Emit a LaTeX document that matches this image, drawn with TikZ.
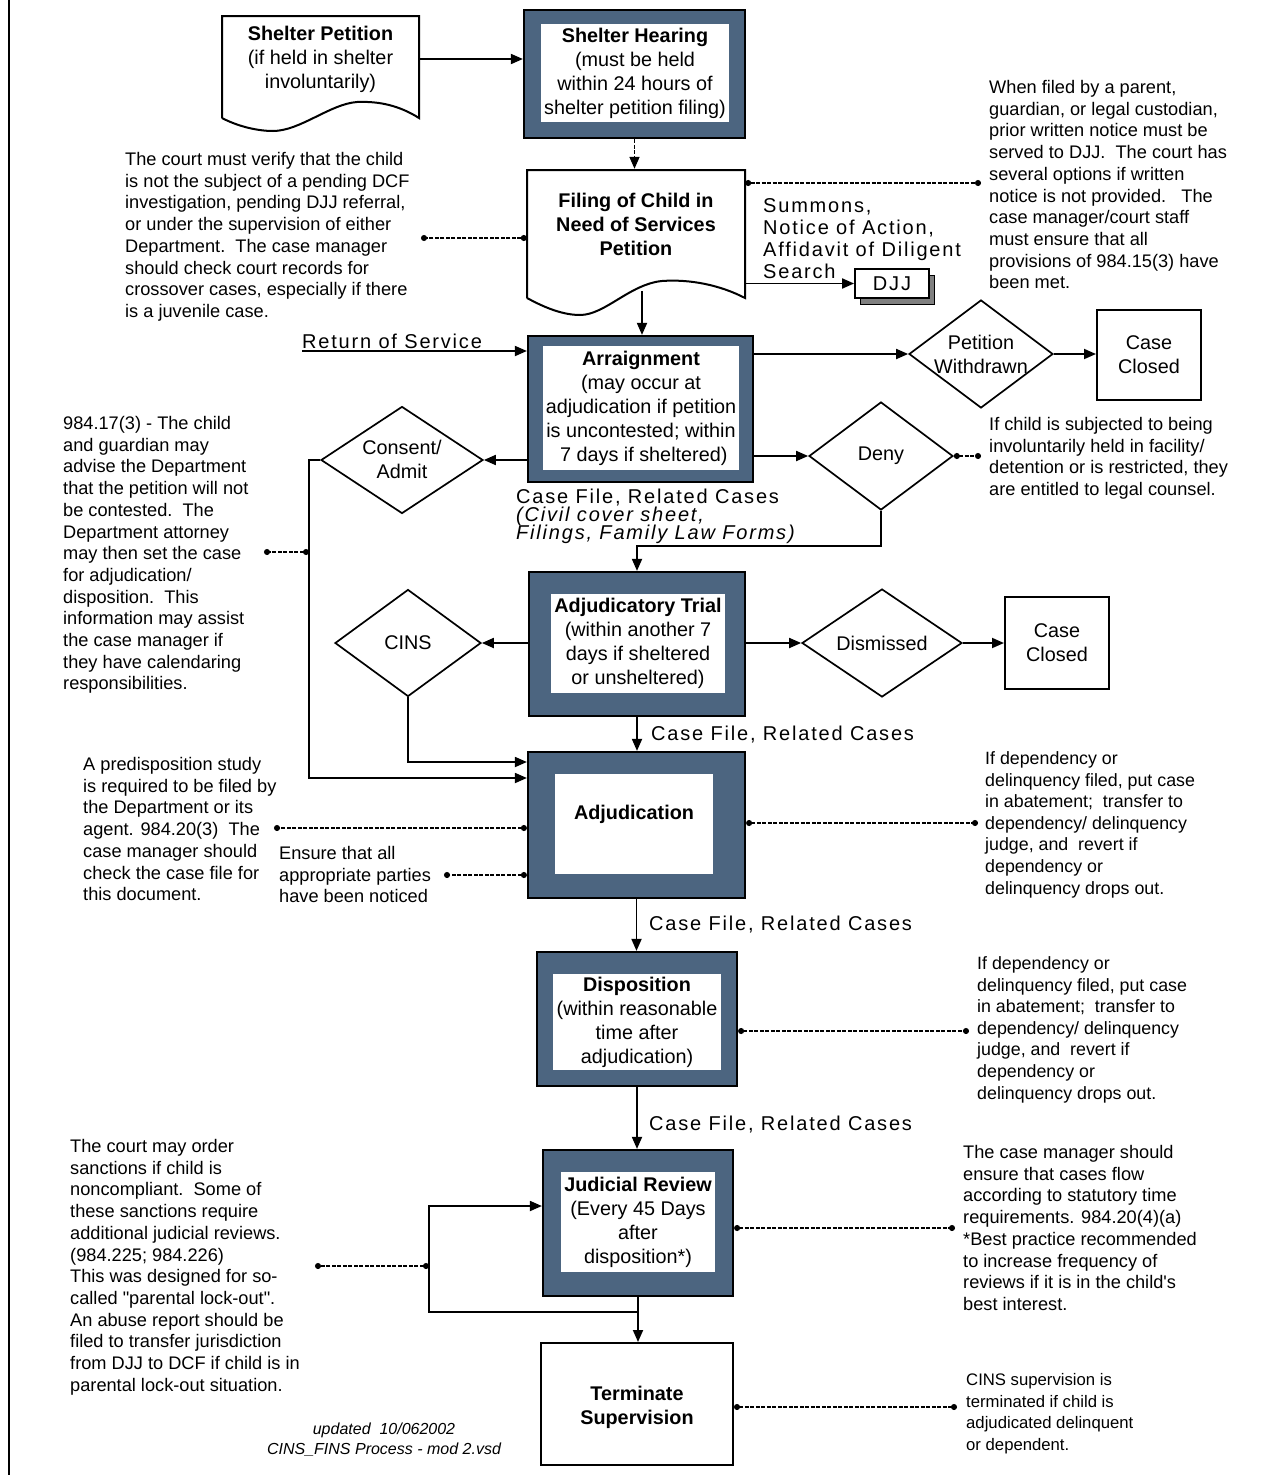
\documentclass[tikz,border=0pt]{standalone}
\usepackage{fontspec}
\setmainfont{Liberation Sans}
\newfontfamily\spacedfont[LetterSpace=9]{Liberation Sans}
\newfontfamily\plainq{Liberation Sans}
\usetikzlibrary{arrows.meta,shapes.geometric}
\definecolor{boxblue}{RGB}{76,101,128}
\newcommand\boxfnt{\fontsize{19.8}{24}\selectfont}
\newcommand\notefnt{\fontsize{18.2}{21.7}\selectfont}
\newcommand\ltab[1]{\begin{tabular}[t]{@{}l@{}}#1\end{tabular}}
\newcommand\ctab[1]{\begin{tabular}[t]{@{}c@{}}#1\end{tabular}}
\newcommand\tlines[1]{\parbox[t]{400pt}{\lineskiplimit=-30pt\relax #1}}
\tikzset{
  outerbox/.style={draw, line width=2.2pt, fill=boxblue, inner sep=0pt},
  innerbox/.style={fill=white, inner sep=0pt, align=center, font=\boxfnt},
  plainbox/.style={draw, line width=2pt, fill=white, inner sep=0pt, align=center, font=\boxfnt},
  decision/.style={diamond, draw, line width=1.7pt, inner sep=0pt},
  dtext/.style={align=center, font=\boxfnt, inner sep=0pt},
  conn/.style={line width=1.8pt, -{Triangle[length=12pt,width=10pt]}},
  dconn/.style={line width=1.3pt, dash pattern=on 4pt off 1.5pt, {Circle[length=6pt]}-{Circle[length=6pt]}},
  note/.style={anchor=base west, inner sep=0pt, font=\notefnt},
  spnote/.style={anchor=base west, inner sep=0pt, font=\spacedfont\fontsize{20}{22}\selectfont},
}
\begin{document}
\begin{tikzpicture}[x=1pt,y=-1pt]
\useasboundingbox (0,0) rectangle (1286,1475);
\draw[line width=2pt] (9,0) -- (9,1475);

% ---------- Shelter Petition (document shape)
\draw[line width=2pt, fill=white] (222,118) -- (222,16) -- (419,16) -- (419,118)
  .. controls (400,106) and (380,101) .. (357,102)
  .. controls (330,104) and (300,131) .. (273,131)
  .. controls (255,131) and (235,125) .. (222,118);
\node[dtext, minimum width=197, minimum height=84] (sp) at (320.5,59)
  {\textbf{Shelter Petition}\\(if held in shelter\\involuntarily)};

% ---------- Shelter Hearing
\node[outerbox, minimum width=221, minimum height=128] (sh) at (634.5,74) {};
\node[innerbox, minimum width=188, minimum height=98] (shin) at (635,73)
  {\textbf{Shelter Hearing}\\(must be held\\within 24 hours of\\shelter petition filing)};

% ---------- Filing (document shape)
\draw[line width=2pt, fill=white] (527,298) -- (527,170) -- (745,170) -- (745,298)
  .. controls (720,285) and (690,279) .. (662,281)
  .. controls (630,284) and (605,315) .. (580,315)
  .. controls (560,315) and (540,305) .. (527,298);
\node[dtext, minimum width=218, minimum height=110] (fil) at (636,224)
  {\textbf{Filing of Child in}\\\textbf{Need of Services}\\\textbf{Petition}};

% ---------- Arraignment
\node[outerbox, minimum width=225, minimum height=146] (arr) at (640.5,409) {};
\node[innerbox, minimum width=196, minimum height=124] (arrin) at (641,408)
  {\textbf{Arraignment}\\(may occur at\\adjudication if petition\\is uncontested; within\\\ 7 days if sheltered)};

% ---------- DJJ
\node[draw, line width=1pt, fill=gray, minimum width=74, minimum height=29, inner sep=0pt] (djjsh) at (897,289.5) {};
\node[draw, line width=1.8pt, fill=white, minimum width=74, minimum height=29, inner sep=0pt,
  font=\spacedfont\fontsize{20}{22}\selectfont] (djj) at (892,283.5) {DJJ};

% ---------- decisions and closed boxes
\node[decision, minimum width=144, minimum height=108] (pw) at (981,354) {};
\node[dtext] (pwt) at (981,354) {Petition\\Withdrawn};
\node[plainbox, minimum width=104, minimum height=90] (cc1) at (1149,355) {Case\\Closed};
\node[decision, minimum width=144, minimum height=108] (deny) at (881,456) {};
\node[dtext] (denyt) at (881,456) {Deny};
\node[decision, minimum width=162, minimum height=107] (cons) at (402,460) {};
\node[dtext] (const) at (402,459) {Consent/\\Admit};

% ---------- Adjudicatory Trial
\node[outerbox, minimum width=216, minimum height=144] (at) at (637,644) {};
\node[innerbox, minimum width=174, minimum height=99] (atin) at (638,643.5)
  {\textbf{Adjudicatory Trial}\\(within another 7\\days if sheltered\\or unsheltered)};
\node[decision, minimum width=146, minimum height=107] (cins) at (408,643) {};
\node[dtext] (cinst) at (408,643) {CINS};
\node[decision, minimum width=160, minimum height=108] (dis) at (882,643) {};
\node[dtext] (dist) at (882,643) {Dismissed};
\node[plainbox, minimum width=104, minimum height=92] (cc2) at (1057,643) {Case\\Closed};

% ---------- Adjudication
\node[outerbox, minimum width=217, minimum height=146] (adj) at (636.5,825) {};
\node[innerbox, minimum width=158, minimum height=100] (adjin) at (634,824) {\textbf{Adjudication}\\\mbox{}};

% ---------- Disposition
\node[outerbox, minimum width=200, minimum height=134] (disp) at (637,1019) {};
\node[innerbox, minimum width=168, minimum height=96] (dispin) at (637,1022)
  {\textbf{Disposition}\\(within reasonable\\time after\\adjudication)};

% ---------- Judicial Review
\node[outerbox, minimum width=190, minimum height=146] (jr) at (638,1223) {};
\node[innerbox, minimum width=154, minimum height=100] (jrin) at (638,1222)
  {\textbf{Judicial Review}\\(Every 45 Days\\after\\disposition*)};

% ---------- Terminate
\node[plainbox, minimum width=192, minimum height=122] (term) at (637,1404) {};
\node[dtext] (termt) at (637,1407) {\textbf{Terminate}\\\textbf{Supervision}};

% ---------- labels
\node[spnote] (ros) at (302,348) {Return of Service};
\node[spnote] (summ) at (763,212) {\ltab{Summons,\\Notice of Action,\\Affidavit of Diligent\\Search}};
\node[anchor=base west, inner sep=0pt, font=\spacedfont\fontsize{20}{18}\selectfont] (cf1) at (516,503)
  {\tlines{Case File, Related Cases\\\itshape(Civil cover sheet,\\Filings, Family Law Forms)}};
\node[spnote] (cf2) at (651,740) {Case File, Related Cases};
\node[spnote] (cf3) at (649,930) {Case File, Related Cases};
\node[spnote] (cf4) at (649,1130) {Case File, Related Cases};

% ---------- notes
\node[note] (nverify) at (125,165.5) {\ltab{The court must verify that the child\\is not the subject of a pending DCF\\investigation, pending DJJ referral,\\or under the supervision of either\\Department.\ \ The case manager\\should check court records for\\crossover cases, especially if there\\is a juvenile case.}};
\node[note] (nfiled) at (989,93.5) {\ltab{When filed by a parent,\\guardian, or legal custodian,\\prior written notice must be\\served to DJJ.\ \ The court has\\several options if written\\notice is not provided.\ \ \ The\\case manager/court staff\\must ensure that all\\provisions of 984.15(3) have\\been met.}};
\node[note] (ncounsel) at (989,430.5) {\ltab{If child is subjected to being\\involuntarily held in facility/\\detention or is restricted, they\\are entitled to legal counsel.}};
\node[note] (n98417) at (63,429.5) {\ltab{984.17(3) - The child\\and guardian may\\advise the Department\\that the petition will not\\be contested.\ \ The\\Department attorney\\may then set the case\\for adjudication/\\disposition.\ \ This\\information may assist\\the case manager if\\they have calendaring\\responsibilities.}};
\node[note] (npredisp) at (83,770.5) {\ltab{A predisposition study\\is required to be filed by\\the Department or its\\agent. 984.20(3)\ \ The\\case manager should\\check the case file for\\this document.}};
\node[note] (nensure) at (279,859.5) {\ltab{Ensure that all\\appropriate parties\\have been noticed}};
\node[note, font=\fontsize{17.8}{21.6}\selectfont] (ndep1) at (985,764.5) {\ltab{If dependency or\\delinquency filed, put case\\in abatement;\ \ transfer to\\dependency/ delinquency\\judge, and\ \ revert if\\dependency or\\delinquency drops out.}};
\node[note, font=\fontsize{17.8}{21.6}\selectfont] (ndep2) at (977,969.5) {\ltab{If dependency or\\delinquency filed, put case\\in abatement;\ \ transfer to\\dependency/ delinquency\\judge, and\ \ revert if\\dependency or\\delinquency drops out.}};
\node[note] (nsanct) at (70,1152.5) {\ltab{The court may order\\sanctions if child is\\noncompliant.\ \ Some of\\these sanctions require\\additional judicial reviews.\\(984.225; 984.226)\\This was designed for so-\\called {\plainq "parental lock-out"}.\\An abuse report should be\\filed to transfer jurisdiction\\from DJJ to DCF if child is in\\parental lock-out situation.}};
\node[note] (nflow) at (963,1158.5) {\ltab{The case manager should\\ensure that cases flow\\according to statutory time\\requirements. 984.20(4)(a)\\\relax{*}Best practice recommended\\to increase frequency of\\reviews if it is in the {\plainq child's}\\best interest.}};
\node[note, font=\fontsize{16.7}{21.5}\selectfont] (nterm) at (966,1385.5) {\ltab{CINS supervision is\\terminated if child is\\adjudicated delinquent\\or dependent.}};
\node[anchor=base, inner sep=0pt, font=\itshape\fontsize{16}{20}\selectfont] (foot) at (384,1434)
  {\ctab{updated\ \ 10/062002\\CINS\_FINS Process - mod 2.vsd}};

% ---------- solid connectors
\draw[conn] (sp.east) -- (sp.east -| sh.west);
\draw[line width=1.6pt, dash pattern=on 4pt off 1.5pt, -{Triangle[length=12pt,width=10pt]}] (sh.south) -- (sh.south |- fil.north);
\coordinate (filout) at (642,291);
\draw[conn] (filout) -- (filout |- arr.north);
\coordinate (rosl) at (302,351);
\draw[conn] (rosl) -- (rosl -| arr.west);
\draw[conn] (fil.east |- djj.west) -- (djj.west);
\draw[conn] (arr.east |- pw.west) -- (pw.west);
\draw[conn] (pw.east) -- (pw.east -| cc1.west);
\draw[conn] (arr.east |- deny.west) -- (deny.west);
\draw[conn] (arr.west |- cons.east) -- (cons.east);
\coordinate (lx) at (309,778);
\draw[conn] (cons.west) -| (lx) -- (lx -| adj.west);
\coordinate (dk) at (881,546);
\draw[conn] (deny.south) -- (dk) -| (at.north);
\draw[conn] (cins.east -| at.west) -- (cins.east);
\coordinate (cy) at (408,762);
\draw[conn] (cins.south) -- (cy) -- (cy -| adj.west);
\draw[conn] (at.east |- dis.west) -- (dis.west);
\draw[conn] (dis.east) -- (dis.east -| cc2.west);
\draw[conn] (at.south) -- (at.south |- adj.north);
\draw[conn] (adj.south) -- (adj.south |- disp.north);
\draw[conn] (disp.south) -- (disp.south |- jr.north);
\draw[conn] (jr.south) -- (jr.south |- term.north);
\coordinate (lb) at (429,1312);
\coordinate (lt) at (429,1206);
\draw[conn] (jr.south |- lb) -- (lb) -- (lt) -- (lt -| jr.west);

% ---------- dashed annotation links
\coordinate (cvend) at (421,238);
\draw[dconn] (cvend -| fil.west) -- (cvend);
\coordinate (wfend) at (981,183);
\draw[dconn] (wfend -| fil.east) -- (wfend);
\coordinate (dyend) at (981,456);
\draw[dconn] (deny.east) -- (dyend);
\coordinate (j1) at (309,552);
\coordinate (a1) at (264,552);
\draw[dconn] (j1) -- (a1);
\coordinate (pdend) at (274,828);
\draw[dconn] (pdend -| adj.west) -- (pdend);
\coordinate (enend) at (444,875);
\draw[dconn] (enend -| adj.west) -- (enend);
\coordinate (adend) at (978,823);
\draw[dconn] (adend -| adj.east) -- (adend);
\coordinate (dsend) at (969,1031);
\draw[dconn] (dsend -| disp.east) -- (dsend);
\coordinate (jrend) at (955,1228);
\draw[dconn] (jrend -| jr.east) -- (jrend);
\coordinate (j2) at (429,1266);
\coordinate (cmend) at (315,1266);
\draw[dconn] (j2) -- (cmend);
\coordinate (tmend) at (957,1407);
\draw[dconn] (tmend -| term.east) -- (tmend);
\end{tikzpicture}
\end{document}
